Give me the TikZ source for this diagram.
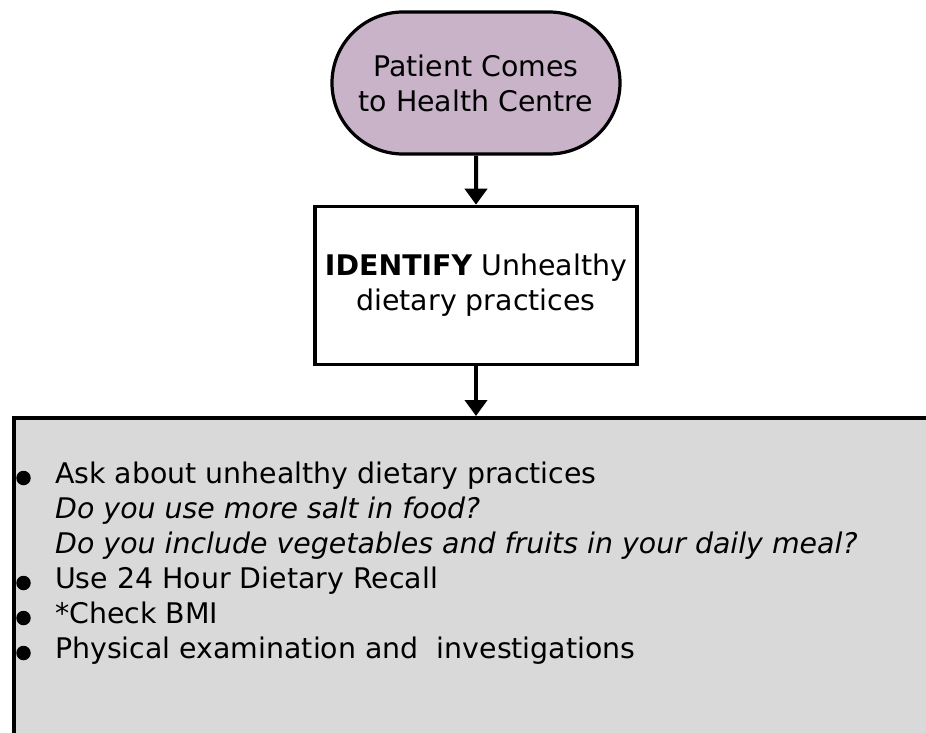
\documentclass[tikz,border=0pt]{standalone}
\usepackage{fontspec}
\setmainfont{DejaVu Sans}
\usetikzlibrary{arrows.meta,shapes.misc}
\definecolor{pillfill}{RGB}{201,179,201}
\definecolor{boxgray}{RGB}{217,217,217}
\begin{document}
\begin{tikzpicture}[x=1bp,y=-1bp,
  txt/.style={font=\fontsize{28.4bp}{35bp}\selectfont},
  pill/.style={rounded rectangle, draw, line width=3.2bp, fill=pillfill,
    minimum width=288bp, minimum height=142bp, align=center, txt, inner sep=0pt},
  stepbox/.style={rectangle, draw, line width=3.6bp, fill=white,
    minimum width=322bp, minimum height=158bp, align=center, txt, inner sep=0pt},
  graybox/.style={rectangle, draw, line width=3.6bp, fill=boxgray,
    minimum width=960bp, minimum height=360bp, anchor=north west, inner sep=0pt},
  arr/.style={line width=4bp, -{Triangle[length=16bp,width=22bp]}},
  itemline/.style={txt, anchor=base west, inner sep=0pt},
  bulletdot/.style={circle, fill=black, minimum size=14.5bp, inner sep=0pt}]
\useasboundingbox (0,0) rectangle (926,733);
\clip (0,0) rectangle (926,733);
\fill[white] (0,0) rectangle (926,733);
\node[pill] (start) at (476,83) {Patient Comes\\to Health Centre};
\node[stepbox] (identify) at (476,285.5) {\textbf{IDENTIFY} Unhealthy\\dietary practices};
\node[graybox] (assess) at (12,416) {};
\draw[arr] (start) -- (start |- identify.north);
\draw[arr] (identify) -- (identify |- assess.north);
\node[bulletdot] (b1) at (23.5,478) {};
\node[bulletdot] (b2) at (23.5,583) {};
\node[bulletdot] (b3) at (23.5,618) {};
\node[bulletdot] (b4) at (23.5,653) {};
\node[itemline] (l1) at (55,483) {Ask about unhealthy dietary practices};
\node[itemline] (l2) at (55,518) {\itshape Do you use more salt in food?};
\node[itemline] (l3) at (55,553) {\itshape Do you include vegetables and fruits in your daily meal?};
\node[itemline] (l4) at (55,588) {Use 24 Hour Dietary Recall};
\node[itemline] (l5) at (55,623) {*Check BMI};
\node[itemline] (l6) at (55,658) {Physical examination and\ \ investigations};
\end{tikzpicture}
\end{document}
